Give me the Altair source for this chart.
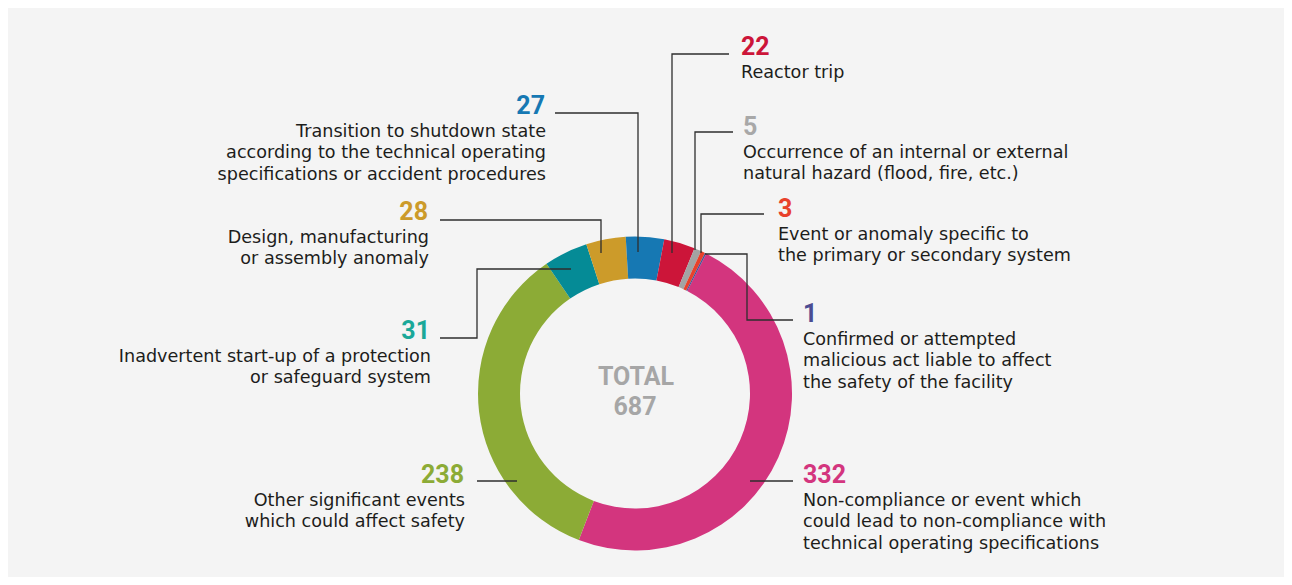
import math
import altair as alt
import pandas as pd

# ---------------- data ----------------
categories = ["332", "238", "31", "28", "27", "22", "5", "3", "1"]
values = [332, 238, 31, 28, 27, 22, 5, 3, 1]
colors = ["#d3357e", "#8cab36", "#058b96", "#cc9b2a", "#1678b3",
          "#cc1539", "#a3a3a3", "#e8412b", "#4b4c92"]
number_colors = ["#d3357e", "#8cab36", "#1aa899", "#cc9b2a", "#1678b3",
                 "#cc1539", "#a8a8a8", "#e8412b", "#4b4c92"]
descriptions = [
    ["Non-compliance or event which", "could lead to non-compliance with",
     "technical operating specifications"],
    ["Other significant events", "which could affect safety"],
    ["Inadvertent start-up of a protection", "or safeguard system"],
    ["Design, manufacturing", "or assembly anomaly"],
    ["Transition to shutdown state", "according to the technical operating",
     "specifications or accident procedures"],
    ["Reactor trip"],
    ["Occurrence of an internal or external", "natural hazard (flood, fire, etc.)"],
    ["Event or anomaly specific to", "the primary or secondary system"],
    ["Confirmed or attempted", "malicious act liable to affect",
     "the safety of the facility"],
]
total_lines = ["TOTAL", "687"]

# label anchors (page pixel coordinates) and alignment
label_x = [803, 464, 430, 428, 545, 741, 743, 778, 803]
label_y = [483, 483, 339, 220, 114, 55, 135, 217, 322]
label_align = ["left", "right", "right", "right", "right", "left", "left", "left", "left"]

# leader lines (page pixel coordinates)
leaders = [
    [(750, 481), (793, 481)],
    [(477, 481), (517, 481)],
    [(440, 338), (477, 338), (477, 269), (571, 269)],
    [(440, 220), (601, 220), (601, 253)],
    [(555, 113), (638, 113), (638, 252)],
    [(729, 54), (672, 54), (672, 253)],
    [(733, 132), (695, 132), (695, 250)],
    [(764, 214), (701, 214), (701, 253)],
    [(705, 254), (747, 254), (747, 320), (793, 320)],
]

# ---------------- layout ----------------
M = 8
W, H = 1276, 569
CX, CY = 635, 393.5
R_OUT, R_IN = 157, 115
START = math.radians(27)

xs = alt.Scale(domain=[M, M + W], nice=False, zero=False)
ys = alt.Scale(domain=[M, M + H], nice=False, zero=False, reverse=True)

arc_df = pd.DataFrame({"cat": categories, "value": values,
                       "color": colors, "idx": list(range(len(values)))})

donut = alt.Chart(arc_df).mark_arc(innerRadius=R_IN, outerRadius=R_OUT, strokeWidth=0).encode(
    theta=alt.Theta("value:Q", stack=True,
                    scale=alt.Scale(range=[START, START + 2 * math.pi])),
    order=alt.Order("idx:Q"),
    color=alt.Color("color:N", scale=None),
    x=alt.value(CX - M),
    y=alt.value(CY - M),
)

line_rows = []
for i, pts in enumerate(leaders):
    for j, (px, py) in enumerate(pts):
        line_rows.append({"cat": categories[i], "seq": j, "px": px, "py": py})
line_df = pd.DataFrame(line_rows)

lines = alt.Chart(line_df).mark_line(color="#2e2e2e", strokeWidth=1.3).encode(
    x=alt.X("px:Q", scale=xs, axis=None),
    y=alt.Y("py:Q", scale=ys, axis=None),
    detail="cat:N",
    order="seq:Q",
)

num_rows, desc_rows = [], []
for i in range(len(categories)):
    num_rows.append({"txt": str(values[i]), "px": label_x[i], "py": label_y[i],
                     "color": number_colors[i], "align": label_align[i]})
    for k, t in enumerate(descriptions[i]):
        desc_rows.append({"txt": t, "px": label_x[i] + (0 if label_align[i] == "left" else 1),
                          "py": label_y[i] + 22.5 + 21.8 * k, "align": label_align[i]})
num_df = pd.DataFrame(num_rows)
desc_df = pd.DataFrame(desc_rows)

layers = [donut, lines]
for al in ["left", "right"]:
    layers.append(
        alt.Chart(num_df[num_df["align"] == al]).mark_text(
            align=al, baseline="alphabetic", font="Roboto", fontWeight="bold", fontSize=25
        ).encode(
            x=alt.X("px:Q", scale=xs, axis=None),
            y=alt.Y("py:Q", scale=ys, axis=None),
            text="txt:N",
            color=alt.Color("color:N", scale=None),
        )
    )
    layers.append(
        alt.Chart(desc_df[desc_df["align"] == al]).mark_text(
            align=al, baseline="alphabetic", font="DejaVu Sans", fontSize=17.6, color="#1d1d1b"
        ).encode(
            x=alt.X("px:Q", scale=xs, axis=None),
            y=alt.Y("py:Q", scale=ys, axis=None),
            text="txt:N",
        )
    )

total_df = pd.DataFrame({"txt": total_lines, "px": [CX + 1, CX], "py": [384.5, 414.5]})
layers.append(
    alt.Chart(total_df).mark_text(
        align="center", baseline="alphabetic", font="Roboto", fontWeight="bold",
        fontSize=25, color="#a6a6a6"
    ).encode(
        x=alt.X("px:Q", scale=xs, axis=None),
        y=alt.Y("py:Q", scale=ys, axis=None),
        text="txt:N",
    )
)

chart = alt.layer(*layers).properties(
    width=W, height=H, padding=0, background="#f4f4f4",
    autosize=alt.AutoSizeParams(type="none"),
).configure_view(stroke=None)

chart.save("out.html", embed_options={"renderer": "svg", "actions": False})
